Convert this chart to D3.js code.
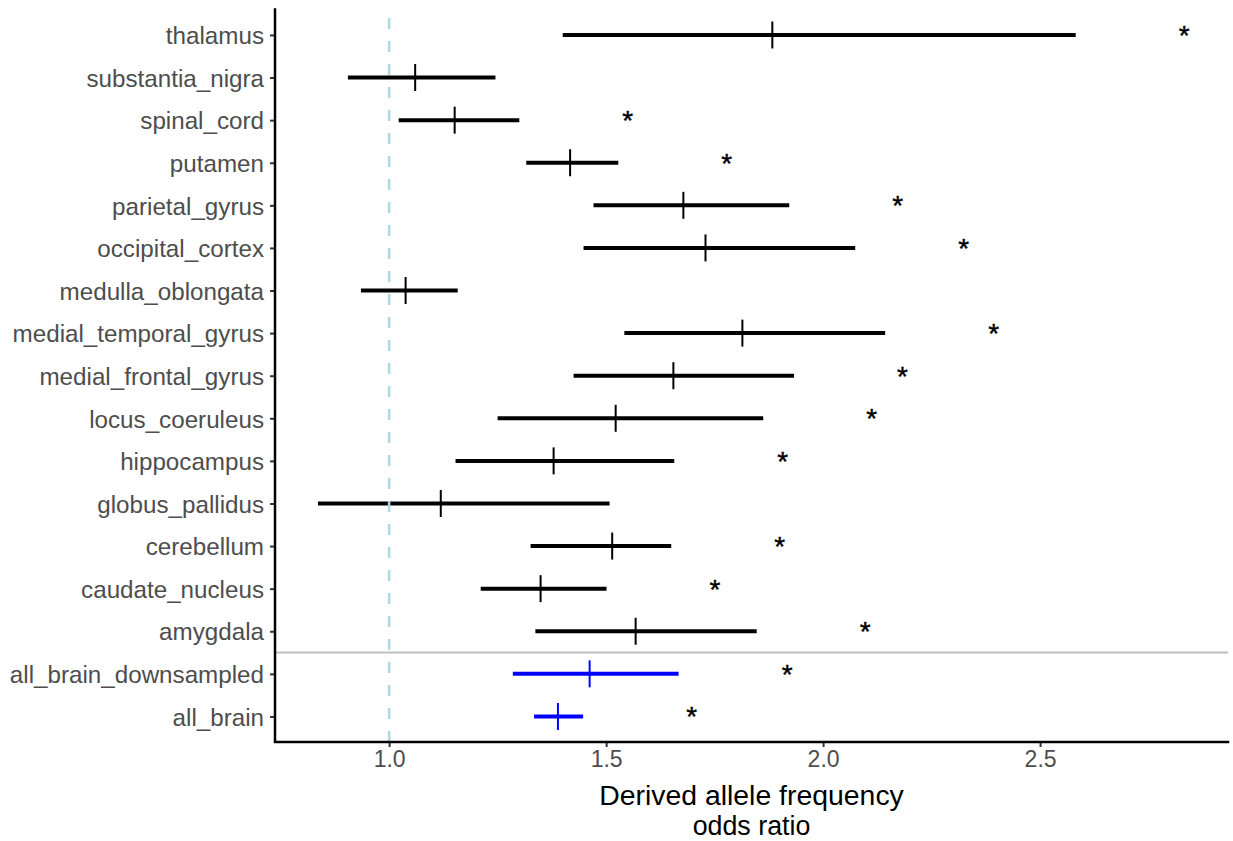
<!DOCTYPE html>
<html><head><meta charset="utf-8">
<script src="https://cdn.jsdelivr.net/npm/d3@7"></script>
<style>body{margin:0;background:#fff}</style>
</head><body>
<svg id="chart" width="1233" height="841"></svg>
<script>
// Data (top row first)
const regions = ["thalamus","substantia_nigra","spinal_cord","putamen","parietal_gyrus","occipital_cortex","medulla_oblongata","medial_temporal_gyrus","medial_frontal_gyrus","locus_coeruleus","hippocampus","globus_pallidus","cerebellum","caudate_nucleus","amygdala","all_brain_downsampled","all_brain"];
const oddsRatio = [1.883,1.060,1.151,1.417,1.678,1.729,1.038,1.814,1.655,1.522,1.379,1.119,1.514,1.349,1.568,1.462,1.389];
const ciLow     = [1.400,0.905,1.022,1.316,1.471,1.448,0.935,1.542,1.425,1.250,1.153,0.836,1.326,1.211,1.337,1.285,1.334];
const ciHigh    = [2.582,1.245,1.300,1.528,1.922,2.074,1.158,2.143,1.933,1.862,1.657,1.508,1.650,1.501,1.847,1.667,1.447];
const significant = [true,false,true,true,true,true,false,true,true,true,true,false,true,true,true,true,true];
const groupType = ["region","region","region","region","region","region","region","region","region","region","region","region","region","region","region","all","all"];
const xTicks = [1.0,1.5,2.0,2.5];
const refLine = 1.0;
const starOffset = 0.25;

(function(){
const rows = regions.map((r,i)=>({region:r, or:oddsRatio[i], lo:ciLow[i], hi:ciHigh[i], sig:significant[i], grp:groupType[i]}));

const svg = d3.select("#chart");
const mLeft = 275, mRight = 1228, mTop = 9.4, mBottom = 742;
const font = "Liberation Sans, Arial, sans-serif";

const x = d3.scaleLinear().domain([0.737, 2.933]).range([mLeft, mRight]);
const y = d3.scalePoint().domain(regions).range([mTop, mBottom]).padding(0.6);
const color = g => g === "all" ? "#0000FF" : "#000000";

// separator between region rows and aggregate rows
const sepY = (y("amygdala") + y("all_brain_downsampled")) / 2;
svg.append("line").attr("x1", mLeft).attr("x2", mRight).attr("y1", sepY).attr("y2", sepY)
  .attr("stroke", "#BEBEBE").attr("stroke-width", 2);

// error bars
svg.append("g").selectAll("line").data(rows).join("line")
  .attr("x1", d => x(d.lo)).attr("x2", d => x(d.hi))
  .attr("y1", d => y(d.region)).attr("y2", d => y(d.region))
  .attr("stroke", d => color(d.grp)).attr("stroke-width", 4);

// point estimates
svg.append("g").selectAll("line").data(rows).join("line")
  .attr("x1", d => x(d.or)).attr("x2", d => x(d.or))
  .attr("y1", d => y(d.region) - 13.5).attr("y2", d => y(d.region) + 13.5)
  .attr("stroke", d => color(d.grp)).attr("stroke-width", 2);

// reference line
svg.append("line").attr("x1", x(refLine)).attr("x2", x(refLine)).attr("y1", mBottom).attr("y2", mTop)
  .attr("stroke", "#ADD8E6").attr("stroke-width", 2.5).attr("stroke-dasharray", "11,12");

// significance stars
svg.append("g").selectAll("text").data(rows.filter(d => d.sig)).join("text")
  .attr("x", d => x(d.hi + starOffset)).attr("y", d => y(d.region) + 10)
  .attr("text-anchor", "middle").attr("font-family", font)
  .attr("font-size", 28).attr("fill", "#000").attr("stroke", "#000").attr("stroke-width", 0.4).text("*");

// Y axis
const yAxis = svg.append("g").attr("transform", `translate(${mLeft},0)`)
  .call(d3.axisLeft(y).tickSize(5).tickPadding(6));
yAxis.select(".domain").remove();
yAxis.selectAll(".tick line").attr("stroke", "#333333").attr("stroke-width", 2);
yAxis.selectAll(".tick text").attr("fill", "#4D4D4D").attr("font-size", 24.2)
  .attr("font-family", font).attr("dy", "0.36em");

// X axis
const xAxis = svg.append("g").attr("transform", `translate(0,${mBottom})`)
  .call(d3.axisBottom(x).tickValues(xTicks).tickFormat(d3.format(".1f")).tickSize(5).tickPadding(4));
xAxis.select(".domain").remove();
xAxis.selectAll(".tick line").attr("stroke", "#333333").attr("stroke-width", 2);
xAxis.selectAll(".tick text").attr("fill", "#4D4D4D").attr("font-size", 23)
  .attr("font-family", font);

// axis lines
svg.append("path").attr("d", `M${mLeft},${mTop}V${mBottom}H${mRight}`)
  .attr("fill", "none").attr("stroke", "#000").attr("stroke-width", 2.5).attr("stroke-linecap", "square");

// x title
const cx = (mLeft + mRight) / 2;
const title = svg.append("text").attr("text-anchor", "middle").attr("font-size", 28.4)
  .attr("font-family", font).attr("fill", "#000");
title.append("tspan").attr("x", cx).attr("y", 805).text("Derived allele frequency");
title.append("tspan").attr("x", cx).attr("y", 835).attr("font-size", 26.8).text("odds ratio");
})();
</script>
</body></html>
